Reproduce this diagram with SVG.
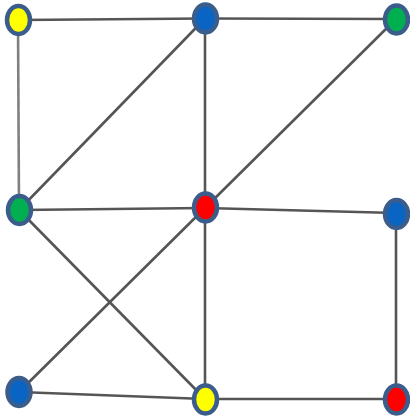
<svg xmlns="http://www.w3.org/2000/svg" width="410" height="417" viewBox="0 0 410 417">
<style>
.e{stroke:#555555;stroke-width:2.6;fill:none}
.n{stroke:#3a5d8c;stroke-width:4.5}
.y{fill:#ffff00}.b{fill:#0a64c4}.g{fill:#00b050}.r{fill:#ff0000}
</style>
<rect width="410" height="417" fill="#ffffff"/>
<g id="connectors">
<line class="e" x1="18" y1="20" x2="205" y2="18.5"/>
<line class="e" x1="205" y1="18.5" x2="396" y2="19"/>
<line class="e" x1="18" y1="20" x2="19" y2="210" style="stroke:#808080"/>
<line class="e" x1="205" y1="18.5" x2="19" y2="210"/>
<line class="e" x1="205" y1="18.5" x2="205" y2="208"/>
<line class="e" x1="396" y1="19" x2="205" y2="208"/>
<line class="e" x1="19" y1="210" x2="205" y2="208"/>
<line class="e" x1="205" y1="208" x2="396" y2="213"/>
<line class="e" x1="396" y1="213" x2="396" y2="399"/>
<line class="e" x1="19" y1="210" x2="205" y2="399"/>
<line class="e" x1="205" y1="208" x2="19" y2="392"/>
<line class="e" x1="205" y1="208" x2="205" y2="399"/>
<line class="e" x1="19" y1="392" x2="205" y2="399"/>
<line class="e" x1="205" y1="399" x2="396" y2="399"/>
</g>
<g id="n1"><ellipse class="n y" cx="18.5" cy="20" rx="11.5" ry="14"/></g>
<g id="n2"><ellipse class="n b" cx="205.5" cy="18.5" rx="11.5" ry="14"/></g>
<g id="n3"><ellipse class="n g" cx="396.5" cy="19.5" rx="11.5" ry="14"/></g>
<g id="n4"><ellipse class="n g" cx="19.5" cy="210" rx="11.5" ry="14"/></g>
<g id="n5"><ellipse class="n r" cx="205.5" cy="207.5" rx="11.5" ry="14"/></g>
<g id="n6"><ellipse class="n b" cx="396.5" cy="214" rx="11.5" ry="14"/></g>
<g id="n7"><ellipse class="n b" cx="19" cy="392" rx="11.5" ry="14"/></g>
<g id="n8"><ellipse class="n y" cx="205.5" cy="399.5" rx="11.5" ry="14"/></g>
<g id="n9"><ellipse class="n r" cx="396.5" cy="399.5" rx="11.5" ry="14"/></g>
</svg>
